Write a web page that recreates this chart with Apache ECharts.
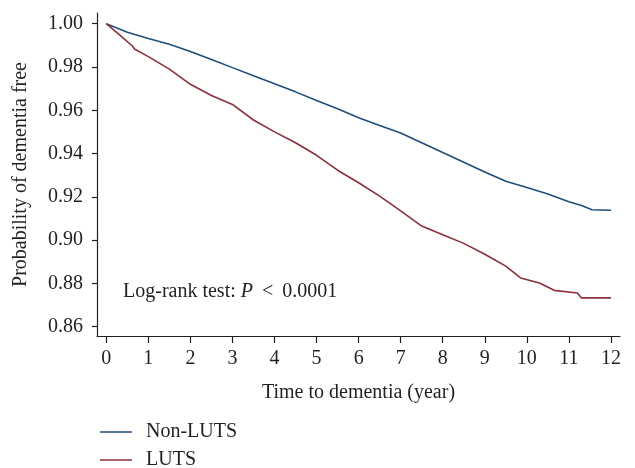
<!DOCTYPE html>
<html>
<head>
<meta charset="utf-8">
<script src="https://cdn.jsdelivr.net/npm/echarts@6/dist/echarts.min.js"></script>
<style>
html,body{margin:0;padding:0;background:#fff;}
#chart{width:635px;height:468px;}
</style>
</head>
<body>
<div id="chart"></div>
<script>
// Data
const xTicks = [0,1,2,3,4,5,6,7,8,9,10,11,12];
const yTicks = [0.86,0.88,0.90,0.92,0.94,0.96,0.98,1.00];

const nonLutsTime = [0,0.5,1,1.5,2,2.5,3,3.5,4,4.5,5,5.5,6,6.5,7,7.5,8,8.5,9,9.5,10,10.5,11,11.3,11.55,12];
const nonLutsSurv = [1.000,0.9960,0.9932,0.9905,0.9872,0.9835,0.9797,0.9760,0.9722,0.9685,0.9645,0.9607,0.9565,0.9530,0.9495,0.9450,0.9405,0.9360,0.9315,0.9272,0.9243,0.9213,0.9177,0.9160,0.9140,0.9138];

const lutsTime = [0,0.33,0.62,0.67,1,1.5,2,2.5,3,3.5,4,4.5,5,5.5,6,6.5,7,7.5,8,8.5,9,9.5,9.85,10.3,10.65,11.2,11.3,12];
const lutsSurv = [1.000,0.9946,0.9897,0.9883,0.9848,0.9790,0.9720,0.9668,0.9627,0.9555,0.9500,0.9450,0.9392,0.9323,0.9265,0.9203,0.9135,0.9065,0.9025,0.8985,0.8935,0.8880,0.8825,0.8802,0.8768,0.8756,0.8733,0.8733];

const seriesNames = ['Non-LUTS','LUTS'];

const zip = (a,b) => a.map((v,i) => [v,b[i]]);
const FONT = '"Liberation Serif", "DejaVu Serif", serif';
const BLUE = '#1d4e7c';
const RED = '#8c2f38';
const INK = '#231f20';

const legendBase = {
  orient: 'vertical',
  left: 100,
  padding: 0,
  itemWidth: 32,
  itemHeight: 1.5,
  icon: 'rect',
  textStyle: {fontFamily: FONT, fontSize: 20, color: INK, padding: [0,0,0,9]}
};

const chart = echarts.init(document.getElementById('chart'));
chart.setOption({
  animation: false,
  backgroundColor: '#fff',
  textStyle: {fontFamily: FONT},
  grid: {left: 97, right: 15, top: 13, bottom: 132, containLabel: false},
  xAxis: {
    type: 'value',
    min: -0.221, max: 12.215,
    name: 'Time to dementia (year)',
    nameLocation: 'middle',
    nameGap: 47,
    nameTextStyle: {fontFamily: FONT, fontSize: 20, color: INK},
    axisLine: {show: true, onZero: false, lineStyle: {color: INK, width: 1.2}},
    axisTick: {show: true, customValues: xTicks, length: 7, inside: false, lineStyle: {color: INK, width: 1.2}},
    axisLabel: {customValues: xTicks, fontFamily: FONT, fontSize: 20, color: INK, margin: 13},
    splitLine: {show: false}
  },
  yAxis: {
    type: 'value',
    min: 0.8557, max: 1.00494,
    name: 'Probability of dementia free',
    nameLocation: 'middle',
    nameGap: 66,
    nameRotate: 90,
    nameTextStyle: {fontFamily: FONT, fontSize: 20, color: INK},
    axisLine: {show: true, onZero: false, lineStyle: {color: INK, width: 1.2}},
    axisTick: {show: true, customValues: yTicks, length: 5, lineStyle: {color: INK, width: 1.2}},
    axisLabel: {customValues: yTicks, fontFamily: FONT, fontSize: 20, color: INK, margin: 14,
      formatter: v => v.toFixed(2)},
    splitLine: {show: false}
  },
  legend: [
    Object.assign({}, legendBase, {top: 422, data: [seriesNames[0]]}),
    Object.assign({}, legendBase, {top: 450, data: [seriesNames[1]]})
  ],
  graphic: [{
    type: 'text',
    left: 123,
    top: 282,
    style: {
      text: '{a|Log-rank test: }{i|P}{s|<}{a|0.0001}',
      rich: {
        a: {fontFamily: FONT, fontSize: 20, fill: INK},
        i: {fontFamily: FONT, fontSize: 20, fontStyle: 'italic', fill: INK},
        s: {fontFamily: FONT, fontSize: 20, fill: INK, padding: [0, 9, 0, 9]}
      }
    }
  }],
  series: [
    {name: seriesNames[0], type: 'line', data: zip(nonLutsTime, nonLutsSurv), symbol: 'none',
      lineStyle: {color: BLUE, width: 1.6}, itemStyle: {color: BLUE}},
    {name: seriesNames[1], type: 'line', data: zip(lutsTime, lutsSurv), symbol: 'none',
      lineStyle: {color: RED, width: 1.6}, itemStyle: {color: RED}}
  ]
});
</script>
</body>
</html>
